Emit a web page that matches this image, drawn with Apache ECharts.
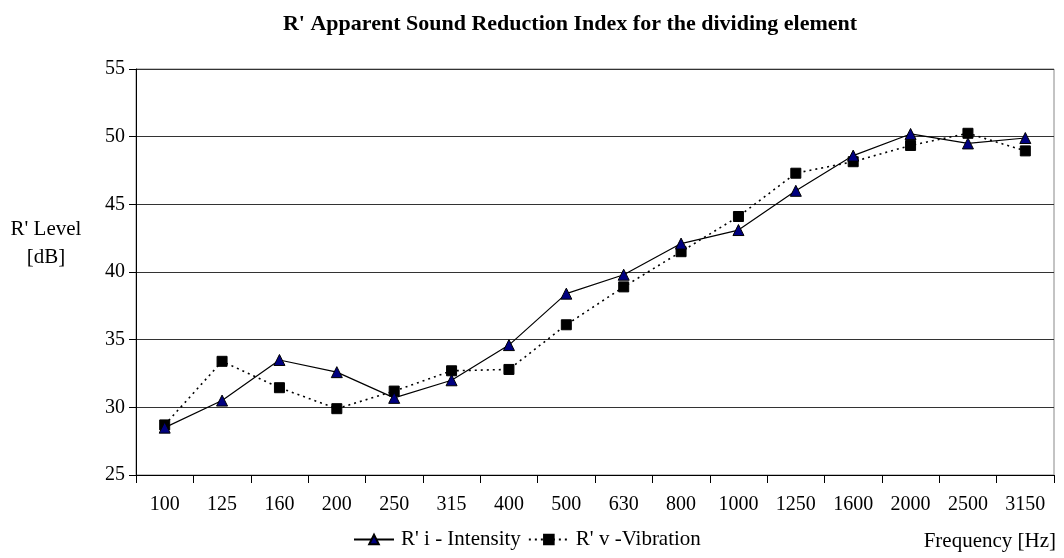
<!DOCTYPE html>
<html><head><meta charset="utf-8">
<script src="https://cdn.jsdelivr.net/npm/echarts@6/dist/echarts.min.js"></script>
<style>html,body{margin:0;padding:0;background:#fff}#c{width:1064px;height:558px}</style>
</head><body><div id="c"></div>
<script>
var categories = ['100','125','160','200','250','315','400','500','630','800','1000','1250','1600','2000','2500','3150'];
var intensity = [28.5,30.5,33.5,32.6,30.7,32.0,34.6,38.4,39.8,42.1,43.1,46.0,48.6,50.2,49.5,49.9];
var vibration = [28.7,33.4,31.45,29.9,31.2,32.7,32.8,36.1,38.9,41.5,44.1,47.3,48.15,49.35,50.25,48.95];
var yTicks = {min:25, max:55, interval:5};

var font = 'Liberation Serif, Times New Roman, serif';
var chart = echarts.init(document.getElementById('c'));
chart.setOption({
  backgroundColor:'#fff',
  animation:false,
  title:{text:"R' Apparent Sound Reduction Index for the dividing element", left:565, textAlign:'center', top:8,
    textStyle:{fontFamily:font, fontSize:22, fontWeight:'bold', color:'#000'}},
  grid:{left:136, right:10, top:69, bottom:83, show:true, borderColor:'#888', borderWidth:1, backgroundColor:'#fff'},
  legend:{top:529, left:353, padding:0, itemWidth:40, itemHeight:12, itemGap:7,
    textStyle:{fontFamily:font, fontSize:21, color:'#000', padding:[0,0,0,2]},
    data:["R' i - Intensity","R' v -Vibration"]},
  graphic:[
    {type:'text', right:8, top:531, style:{text:'Frequency [Hz]', font:'21px '+font, fill:'#000'}},
    {type:'text', x:46, y:243, style:{text:"R' Level\n[dB]", font:'21px '+font, fill:'#000', align:'center', verticalAlign:'middle', lineHeight:28}}
  ],
  xAxis:{type:'category', data:categories, boundaryGap:true,
    axisLine:{lineStyle:{color:'#000', width:1}},
    axisTick:{show:true, length:8, inside:false, lineStyle:{color:'#000'}},
    axisLabel:{color:'#000', fontFamily:font, fontSize:20, margin:20, interval:0},
    splitLine:{show:false}},
  yAxis:{type:'value', min:yTicks.min, max:yTicks.max, interval:yTicks.interval,
    axisLine:{show:true, lineStyle:{color:'#000', width:1}},
    axisTick:{show:true, length:7, lineStyle:{color:'#000'}},
    axisLabel:{color:'#000', fontFamily:font, fontSize:20, margin:11},
    splitLine:{show:true, lineStyle:{color:'#333', width:1}}},
  series:[
    {name:"R' i - Intensity", type:'line', data:intensity, symbol:'triangle', symbolSize:11,
      lineStyle:{color:'#000', width:1.2, type:'solid'},
      itemStyle:{color:'#000080', borderColor:'#000', borderWidth:1}, z:3},
    {name:"R' v -Vibration", type:'line', data:vibration, symbol:'rect', symbolSize:10,
      lineStyle:{color:'#000', width:1.6, type:[2,4]},
      itemStyle:{color:'#000', borderColor:'#000', borderWidth:1}, z:2}
  ]
});
</script></body></html>
